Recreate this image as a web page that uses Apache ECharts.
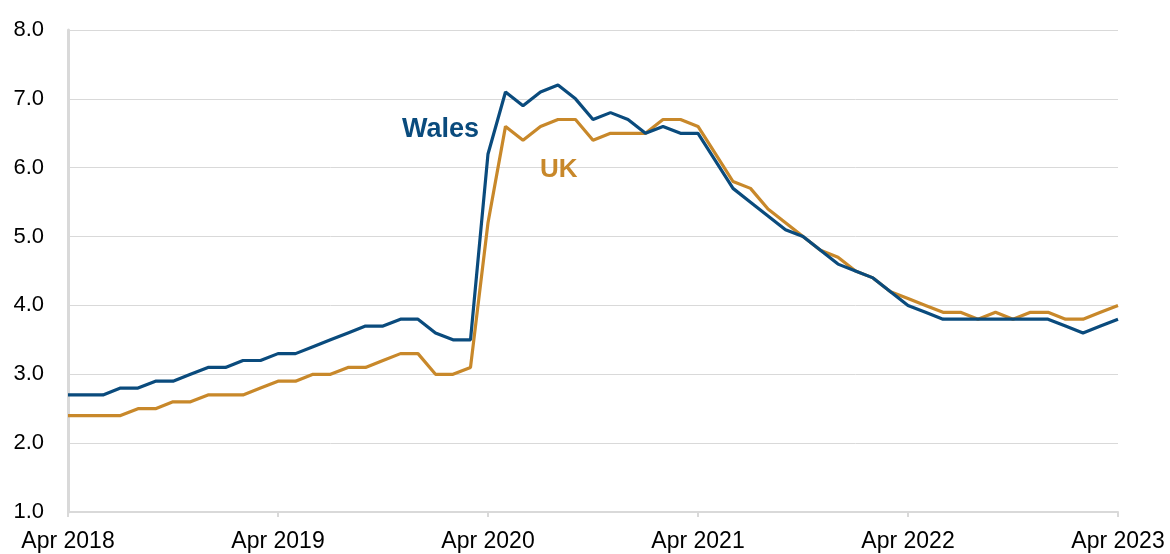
<!DOCTYPE html>
<html>
<head>
<meta charset="utf-8">
<script src="https://cdn.jsdelivr.net/npm/echarts@6/dist/echarts.min.js"></script>
<style>
html,body{margin:0;padding:0;background:#fff;}
#chart{width:1170px;height:554px;}
</style>
</head>
<body>
<div id="chart"></div>
<script>
var categories = [
  'Apr 2018','May 2018','Jun 2018','Jul 2018','Aug 2018','Sep 2018','Oct 2018','Nov 2018','Dec 2018','Jan 2019','Feb 2019','Mar 2019',
  'Apr 2019','May 2019','Jun 2019','Jul 2019','Aug 2019','Sep 2019','Oct 2019','Nov 2019','Dec 2019','Jan 2020','Feb 2020','Mar 2020',
  'Apr 2020','May 2020','Jun 2020','Jul 2020','Aug 2020','Sep 2020','Oct 2020','Nov 2020','Dec 2020','Jan 2021','Feb 2021','Mar 2021',
  'Apr 2021','May 2021','Jun 2021','Jul 2021','Aug 2021','Sep 2021','Oct 2021','Nov 2021','Dec 2021','Jan 2022','Feb 2022','Mar 2022',
  'Apr 2022','May 2022','Jun 2022','Jul 2022','Aug 2022','Sep 2022','Oct 2022','Nov 2022','Dec 2022','Jan 2023','Feb 2023','Mar 2023',
  'Apr 2023'
];

var walesValues = [
  2.7,2.7,2.7,2.8,2.8,2.9,2.9,3.0,3.1,3.1,3.2,3.2,
  3.3,3.3,3.4,3.5,3.6,3.7,3.7,3.8,3.8,3.6,3.5,3.5,
  6.2,7.1,6.9,7.1,7.2,7.0,6.7,6.8,6.7,6.5,6.6,6.5,
  6.5,6.1,5.7,5.5,5.3,5.1,5.0,4.8,4.6,4.5,4.4,4.2,
  4.0,3.9,3.8,3.8,3.8,3.8,3.8,3.8,3.8,3.7,3.6,3.7,
  3.8
];

var ukValues = [
  2.4,2.4,2.4,2.4,2.5,2.5,2.6,2.6,2.7,2.7,2.7,2.8,
  2.9,2.9,3.0,3.0,3.1,3.1,3.2,3.3,3.3,3.0,3.0,3.1,
  5.2,6.6,6.4,6.6,6.7,6.7,6.4,6.5,6.5,6.5,6.7,6.7,
  6.6,6.2,5.8,5.7,5.4,5.2,5.0,4.8,4.7,4.5,4.4,4.2,
  4.1,4.0,3.9,3.9,3.8,3.9,3.8,3.9,3.9,3.8,3.8,3.9,
  4.0
];

var seriesNames = ['Wales', 'UK'];
var yMin = 1, yMax = 8, yStep = 1;

var blue = '#0a4b7d';
var orange = '#c8882a';
var font = '"Liberation Sans", Arial, sans-serif';

var chart = echarts.init(document.getElementById('chart'), null, {renderer: 'canvas'});
chart.setOption({
  animation: false,
  backgroundColor: '#ffffff',
  grid: {left: 68, right: 52, top: 30, bottom: 42, containLabel: false},
  xAxis: {
    type: 'category',
    data: categories,
    boundaryGap: false,
    axisLine: {show: true, lineStyle: {color: '#d9d9d9', width: 2}},
    axisTick: {show: true, interval: 11, length: 5, lineStyle: {color: '#d9d9d9', width: 2}},
    axisLabel: {interval: 11, margin: 18, color: '#000', fontSize: 23, fontFamily: font},
    splitLine: {show: false}
  },
  yAxis: {
    type: 'value',
    min: yMin, max: yMax, interval: yStep,
    axisLine: {show: true, lineStyle: {color: '#d9d9d9', width: 3}},
    axisTick: {show: false},
    axisLabel: {margin: 24, color: '#000', fontSize: 22, fontFamily: font,
      formatter: function (v) { return v.toFixed(1); }},
    splitLine: {show: true, lineStyle: {color: '#d9d9d9', width: 1}}
  },
  graphic: [
    {type: 'text', left: 402, top: 116, z: 10, style: {text: seriesNames[0], fill: blue, font: 'bold 27px ' + font}},
    {type: 'text', left: 540, top: 157, z: 10, style: {text: seriesNames[1], fill: orange, font: 'bold 26px ' + font}}
  ],
  series: [
    {name: seriesNames[0], type: 'line', data: walesValues, showSymbol: false, symbol: 'none',
     lineStyle: {color: blue, width: 3.2}, itemStyle: {color: blue}, z: 3},
    {name: seriesNames[1], type: 'line', data: ukValues, showSymbol: false, symbol: 'none',
     lineStyle: {color: orange, width: 3.2}, itemStyle: {color: orange}, z: 2}
  ]
});
</script>
</body>
</html>
